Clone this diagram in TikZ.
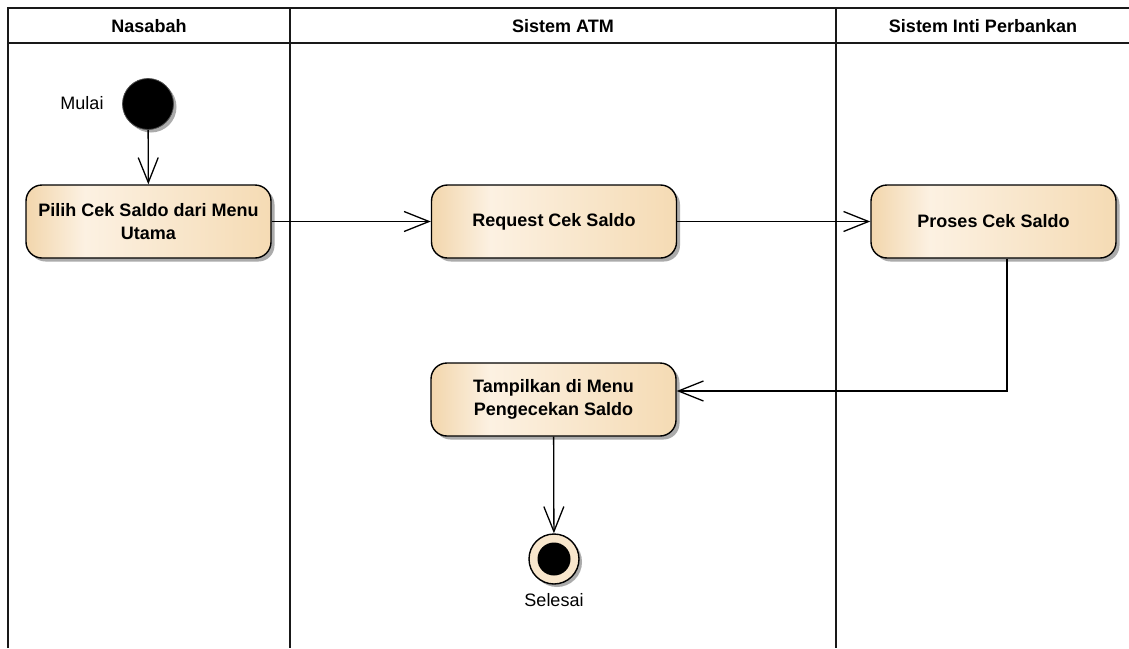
\documentclass[tikz,border=0pt]{standalone}
\usepackage{fontspec}
\setmainfont{Liberation Sans}
\usetikzlibrary{arrows.meta,calc}
\definecolor{tanedge}{RGB}{242,214,172}
\definecolor{tanlight}{RGB}{252,241,226}
\definecolor{tanright}{RGB}{245,219,180}
\definecolor{ringfill}{RGB}{248,230,204}
\definecolor{shadowgray}{RGB}{150,150,150}
\pgfdeclarehorizontalshading{actionshade}{100bp}{%
  color(0bp)=(tanedge); color(25bp)=(tanedge); color(37bp)=(tanlight);
  color(75bp)=(tanright); color(100bp)=(tanright)}
\tikzset{
  lane/.style={line width=1.8pt, draw=black!90},
  lanetitle/.style={font=\fontsize{18}{22}\selectfont\bfseries},
  action/.style={rounded corners=16pt, minimum width=245pt, minimum height=73pt,
    draw=black, line width=1.4pt, shading=actionshade, align=center,
    font=\fontsize{18}{22.5}\selectfont\bfseries,
    preaction={fill=shadowgray, opacity=0.8, transform canvas={shift={(3.5pt,-3.5pt)}}}},
  startnode/.style={circle, minimum size=51pt, inner sep=0pt, fill=black, draw=black!70, line width=0.8pt,
    preaction={fill=shadowgray, opacity=0.8, transform canvas={shift={(3pt,-3pt)}}}},
  endring/.style={circle, minimum size=50pt, inner sep=0pt, fill=ringfill, draw=black, line width=1.4pt,
    preaction={fill=shadowgray, opacity=0.8, transform canvas={shift={(3pt,-3pt)}}}},
  enddot/.style={circle, minimum size=33pt, inner sep=0pt, fill=black},
  plain/.style={font=\fontsize{18}{22}\selectfont},
  flow/.style={line width=1.3pt, -{Straight Barb[length=25pt,width=20pt,line width=1.3pt]}}
}
\begin{document}
\begin{tikzpicture}[x=1pt,y=-1pt]
\useasboundingbox (0,0) rectangle (1129,648);
\fill[white] (0,0) rectangle (1129,648);

% swimlane frame
\draw[lane] (8,648) -- (8,8) -- (1129,8);
\draw[lane] (8,43) -- (1129,43);
\draw[lane] (290,8) -- (290,648);
\draw[lane] (836,8) -- (836,648);
\node[lanetitle] (h1) at (149,26) {Nasabah};
\node[lanetitle] (h2) at (563,26) {Sistem ATM};
\node[lanetitle] (h3) at (983,26) {Sistem Inti Perbankan};

% activity nodes
\node[startnode] (start) at (148,104) {};
\node[plain] (startlbl) at (82,103) {Mulai};
\node[action] (pilih) at (148.5,221.5) {Pilih Cek Saldo dari Menu\\Utama};
\node[action] (request) at (554,221.5) {Request Cek Saldo};
\node[action] (proses) at (993.5,221.5) {Proses Cek Saldo};
\node[action] (tampil) at (553.5,399.5) {Tampilkan di Menu\\Pengecekan Saldo};
\node[endring] (finish) at (554,559) {};
\node[enddot] (finishdot) at (finish.center) {};
\node[plain] (endlbl) at (554,600) {Selesai};

% control flows
\draw[flow] (start) -- (pilih);
\draw[flow] (pilih) -- (request);
\draw[flow] (request) -- (proses);
\coordinate (bend) at (1007,391);
\draw[flow] (proses.south -| bend) -- (bend) -- (tampil.east |- bend);
\draw[flow] (tampil) -- (finish);
\end{tikzpicture}
\end{document}
